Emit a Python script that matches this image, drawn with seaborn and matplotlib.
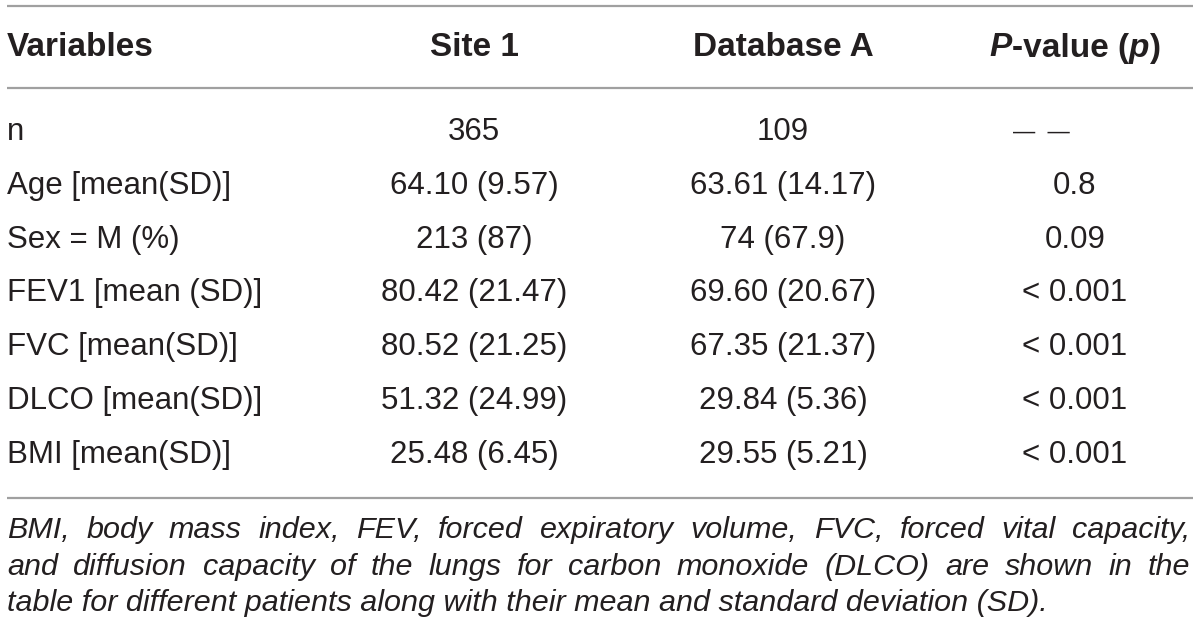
import matplotlib
matplotlib.use("Agg")
import matplotlib.pyplot as plt
import seaborn as sns

# table content
variables = ["n", "Age [mean(SD)]", "Sex = M (%)", "FEV1 [mean (SD)]",
             "FVC [mean(SD)]", "DLCO [mean(SD)]", "BMI [mean(SD)]"]
site_1 = ["365", "64.10 (9.57)", "213 (87)", "80.42 (21.47)",
          "80.52 (21.25)", "51.32 (24.99)", "25.48 (6.45)"]
database_a = ["109", "63.61 (14.17)", "74 (67.9)", "69.60 (20.67)",
              "67.35 (21.37)", "29.84 (5.36)", "29.55 (5.21)"]
p_values = ["\u2014  \u2014", "0.8", "0.09", "< 0.001", "< 0.001", "< 0.001", "< 0.001"]
header = ["Variables", "Site 1", "Database A"]
footnote = [
    "BMI, body mass index, FEV, forced expiratory volume, FVC, forced vital capacity,",
    "and diffusion capacity of the lungs for carbon monoxide (DLCO) are shown in the",
    "table for different patients along with their mean and standard deviation (SD).",
]

sns.set_theme(style="white")
plt.rcParams["font.family"] = ["Liberation Sans", "DejaVu Sans"]

ink = "#231f20"
rule = "#a0a0a0"

fig = plt.figure(figsize=(12, 6.4), dpi=100)
ax = fig.add_axes([0, 0, 1, 1])
ax.set_xlim(0, 1200)
ax.set_ylim(640, 0)
ax.axis("off")

left, right = 7, 1193
col_x = [7, 474, 783, 1075]
head_y = 48
row_y0, row_dy = 132, 53.8
body_fs = 22.5
head_fs = 24

# rules
for y in [6, 88, 498]:
    ax.plot([left, right], [y, y], color=rule, lw=1.6, solid_capstyle="butt")

# header
ax.text(col_x[0], head_y, header[0], fontsize=head_fs, fontweight="bold",
        color=ink, ha="left", va="center")
for x, h in zip(col_x[1:3], header[1:]):
    ax.text(x, head_y, h, fontsize=head_fs, fontweight="bold", color=ink,
            ha="center", va="center")

fig.canvas.draw()
renderer = fig.canvas.get_renderer()


def text_width(s, **kw):
    t = ax.text(0, 0, s, **kw)
    w = t.get_window_extent(renderer).width
    t.remove()
    return w


# "P-value (p)" header with italic P and p
runs = [("P", "italic"), ("-value (", "normal"), ("p", "italic"), (")", "normal")]
widths = [text_width(s, fontsize=head_fs, fontweight="bold", style=st) for s, st in runs]
x = col_x[3] - sum(widths) / 2
for (s, st), w in zip(runs, widths):
    ax.text(x, head_y, s, fontsize=head_fs, fontweight="bold", style=st,
            color=ink, ha="left", va="center")
    x += w

# body rows
for i in range(len(variables)):
    y = row_y0 + i * row_dy
    ax.text(col_x[0], y, variables[i], fontsize=body_fs, color=ink,
            ha="left", va="center")
    ax.text(col_x[1], y, site_1[i], fontsize=body_fs, color=ink,
            ha="center", va="center")
    ax.text(col_x[2], y, database_a[i], fontsize=body_fs, color=ink,
            ha="center", va="center")
    if i == 0:
        ax.text(col_x[3] - 34, y, p_values[i], fontsize=16, color=ink,
                ha="center", va="center")
    else:
        ax.text(col_x[3], y, p_values[i], fontsize=body_fs, color=ink,
                ha="center", va="center")

# footnote, justified like the source
foot_fs = 19
last_w = text_width(footnote[-1], fontsize=foot_fs, style="italic")
foot_fs = foot_fs * (1045 - left) / last_w
foot_y = [530, 567, 603]
for k, line in enumerate(footnote):
    if k == len(footnote) - 1:
        ax.text(left, foot_y[k], line, fontsize=foot_fs, style="italic",
                color=ink, ha="left", va="center")
        continue
    words = line.split(" ")
    ws = [text_width(w, fontsize=foot_fs, style="italic") for w in words]
    gap = (1190 - left - sum(ws)) / (len(words) - 1)
    x = left
    for w, wd in zip(words, ws):
        ax.text(x, foot_y[k], w, fontsize=foot_fs, style="italic",
                color=ink, ha="left", va="center")
        x += wd + gap

fig.savefig("out.png", dpi=100)
